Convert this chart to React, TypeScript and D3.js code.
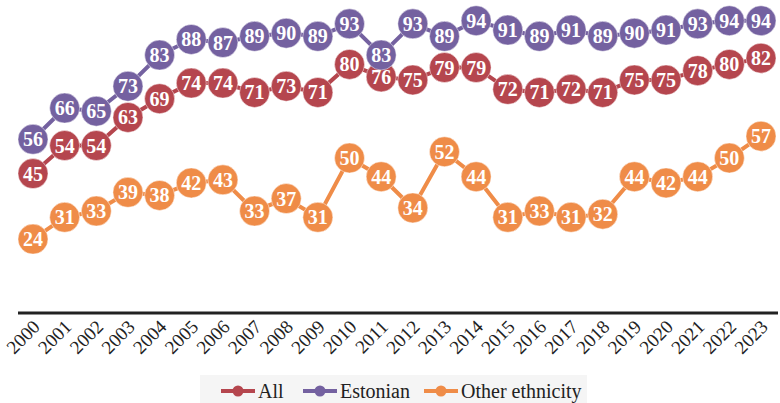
import React from "react";
import * as d3 from "d3";

const years = [2000,2001,2002,2003,2004,2005,2006,2007,2008,2009,2010,2011,2012,2013,2014,2015,2016,2017,2018,2019,2020,2021,2022,2023];
const allValues = [45,54,54,63,69,74,74,71,73,71,80,76,75,79,79,72,71,72,71,75,75,78,80,82];
const estonianValues = [56,66,65,73,83,88,87,89,90,89,93,83,93,89,94,91,89,91,89,90,91,93,94,94];
const otherValues = [24,31,33,39,38,42,43,33,37,31,50,44,34,52,44,31,33,31,32,44,42,44,50,57];

const seriesNames = ["All", "Estonian", "Other ethnicity"];
const seriesColors = ["#b5464e", "#7461a0", "#ef8c48"];

export default function App() {
  const W = 780, H = 403;
  const x = d3.scalePoint<number>().domain(years).range([33, 761]);
  const y = d3.scaleLinear().domain([0, 100]).range([314, 2]);
  const line = d3.line<number>().x((_, i) => x(years[i])!).y(d => y(d));
  const series = [
    { name: seriesNames[2], color: seriesColors[2], values: otherValues },
    { name: seriesNames[0], color: seriesColors[0], values: allValues },
    { name: seriesNames[1], color: seriesColors[1], values: estonianValues },
  ];
  const font = `"Liberation Serif"`;
  const legendItems = [
    { name: seriesNames[0], color: seriesColors[0], x0: 221 },
    { name: seriesNames[1], color: seriesColors[1], x0: 303 },
    { name: seriesNames[2], color: seriesColors[2], x0: 424 },
  ];
  return (
    <svg width={W} height={H} style={{ position: "absolute", left: 0, top: 0 }}>
      <rect width={W} height={H} fill="#fff" />
      <line x1={18} x2={778} y1={313} y2={313} stroke="#222" strokeWidth={3} />
      {years.map(yr => (
        <text key={yr} transform={`translate(${x(yr)! + 5},${325}) rotate(-45)`} textAnchor="end" dominantBaseline="middle" fontSize={19} fill="#222" style={{ fontFamily: font }}>{yr}</text>
      ))}
      {series.map(s => (
        <g key={s.name}>
          <path d={line(s.values)!} fill="none" stroke={s.color} strokeWidth={4} />
          {s.values.map((v, i) => (
            <g key={i}>
              <circle cx={x(years[i])!} cy={y(v)} r={15} fill={s.color} stroke="#fff" strokeWidth={0.8} strokeOpacity={0.6} />
              <text x={x(years[i])!} y={y(v)} dy="0.35em" textAnchor="middle" fontSize={20} fontWeight="bold" fill="#fff" style={{ fontFamily: font }}>{v}</text>
            </g>
          ))}
        </g>
      ))}
      <rect x={200} y={375} width={387} height={28} fill="#f5f5f5" />
      {legendItems.map(l => (
        <g key={l.name}>
          <line x1={l.x0} x2={l.x0 + 34} y1={391} y2={391} stroke={l.color} strokeWidth={4} />
          <circle cx={l.x0 + 17} cy={391} r={5.5} fill={l.color} />
          <text x={l.x0 + 37} y={391} dy="0.35em" fontSize={20} fill="#222" style={{ fontFamily: font }}>{l.name}</text>
        </g>
      ))}
    </svg>
  );
}
